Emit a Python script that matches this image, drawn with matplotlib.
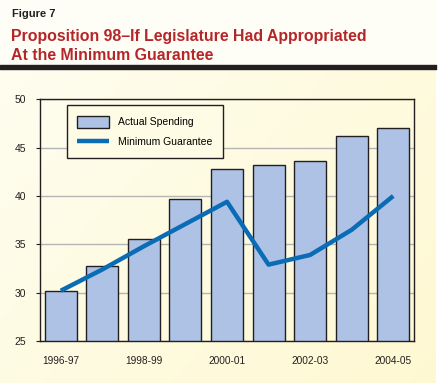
import numpy as np
import matplotlib
matplotlib.use("Agg")
import matplotlib.pyplot as plt
from matplotlib.colors import LinearSegmentedColormap

plt.rcParams["font.family"] = ["Liberation Sans", "DejaVu Sans"]

years = ["1996-97", "1997-98", "1998-99", "1999-00", "2000-01",
         "2001-02", "2002-03", "2003-04", "2004-05"]
actual_spending = [30.2, 32.8, 35.6, 39.7, 42.8, 43.2, 43.6, 46.2, 47.0]
minimum_guarantee = [30.2, 32.4, 34.8, 37.1, 39.4, 32.9, 33.9, 36.5, 40.0]
tick_labels = ["1996-97", "", "1998-99", "", "2000-01", "", "2002-03", "", "2004-05"]

W, H = 439, 388
fig = plt.figure(figsize=(W / 100, H / 100), dpi=100)
fig.patch.set_facecolor("white")

# cream gradient background
bg = fig.add_axes([0, 0, 1, 1], zorder=-10)
bg.set_xlim(0, W)
bg.set_ylim(H, 0)
bg.axis("off")
gx, gy = np.meshgrid(np.linspace(0, 1, 200), np.linspace(0, 1, 200))
grad = 0.55 * gx + 0.45 * gy
cmap = LinearSegmentedColormap.from_list("cream", ["#fffef2", "#fef8d2"])
bg.imshow(grad, cmap=cmap, extent=[0, 436, 383, 0], aspect="auto")
bg.fill_between([0, 436], 0, 65, color="#fffef6")
bg.fill_between([0, 436], 65, 69, color="#231f20")

fig.text(12 / W, 1 - 17 / H, "Figure 7", fontsize=8, fontweight="bold",
         color="#231f20", va="baseline")
fig.text(11 / W, 1 - 41 / H, "Proposition 98\u2013If Legislature Had Appropriated",
         fontsize=11.4, fontweight="bold", color="#b5262a", va="baseline")
fig.text(11 / W, 1 - 59.5 / H, "At the Minimum Guarantee",
         fontsize=11.4, fontweight="bold", color="#b5262a", va="baseline")

ax = fig.add_axes([40 / W, 1 - 341 / H, 374 / W, (341 - 99.3) / H])
ax.set_facecolor("none")
x = np.arange(len(years))
bars = ax.bar(x, actual_spending, width=0.77, bottom=0, color="#adc2e5",
              edgecolor="#231f20", linewidth=1, label="Actual Spending", zorder=2)
line, = ax.plot(x, minimum_guarantee, color="#0a6cb5", linewidth=3.2,
                solid_capstyle="butt", label="Minimum Guarantee", zorder=3)

ax.set_ylim(25, 50)
ax.set_xlim(-0.5, len(years) - 0.5)
ax.set_yticks([25, 30, 35, 40, 45, 50])
ax.set_xticks(x)
ax.set_xticklabels(tick_labels)
ax.yaxis.grid(True, color="#b5b5b5", linewidth=1, zorder=0)
ax.set_axisbelow(True)
for s in ax.spines.values():
    s.set_color("#231f20")
    s.set_linewidth(1)
ax.tick_params(axis="x", length=0, pad=11, labelsize=7.3, colors="#231f20")
ax.tick_params(axis="y", length=3, pad=7, labelsize=7.5, colors="#231f20")

leg = ax.legend([bars, line], ["Actual Spending", "Minimum Guarantee"],
                loc="upper left", bbox_to_anchor=(0.072, 0.976),
                fontsize=7.5, frameon=True, fancybox=False,
                borderpad=1.0, labelspacing=0.8, handlelength=3.0,
                handleheight=1.4, handletextpad=0.9, borderaxespad=0)
leg.get_frame().set_edgecolor("#231f20")
leg.get_frame().set_linewidth(1)
leg.get_frame().set_facecolor("#fffce6")
leg.get_frame().set_alpha(1)

fig.savefig("out.png", dpi=100)
